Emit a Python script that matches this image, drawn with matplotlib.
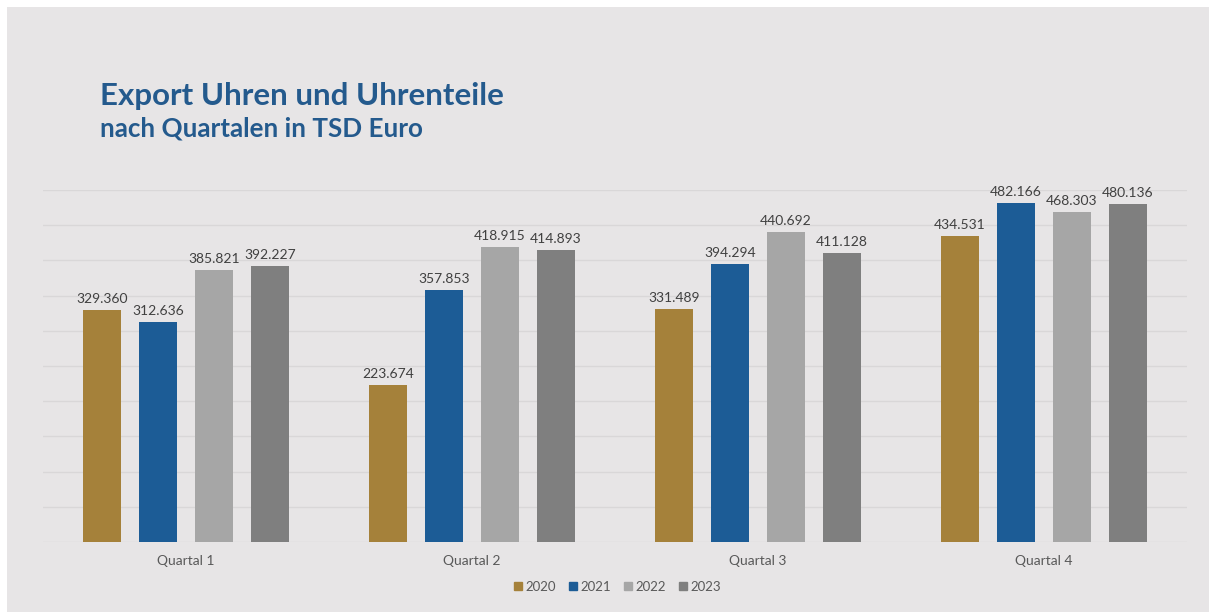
import matplotlib.pyplot as plt
import numpy as np
from matplotlib.patches import Rectangle

plt.rcParams['font.family'] = ['Lato', 'DejaVu Sans']

# Data (TSD Euro)
quarters = ["Quartal 1", "Quartal 2", "Quartal 3", "Quartal 4"]
years = ["2020", "2021", "2022", "2023"]
v2020 = [329360, 223674, 331489, 434531]
v2021 = [312636, 357853, 394294, 482166]
v2022 = [385821, 418915, 440692, 468303]
v2023 = [392227, 414893, 411128, 480136]
series = [v2020, v2021, v2022, v2023]
colors = ["#A5813A", "#1C5C96", "#A6A6A6", "#7F7F7F"]

bg = "#E7E5E6"

fig = plt.figure(figsize=(12.09, 6.12), dpi=100)
fig.patch.set_facecolor(bg)
# thin white strip on top and left edge
fig.patches.append(Rectangle((0, 1 - 7 / 612), 1, 7 / 612, transform=fig.transFigure,
                             facecolor="white", edgecolor="none"))
fig.patches.append(Rectangle((0, 0), 7 / 1209, 1, transform=fig.transFigure,
                             facecolor="white", edgecolor="none"))

ax = fig.add_axes([43 / 1209, 1 - 542 / 612, 1144 / 1209, 352 / 612])
ax.set_facecolor(bg)

x = np.arange(len(quarters))
width = 0.13
step = 0.196

def fmt(v):
    return f"{v:,}".replace(",", ".")

for i, (vals, c) in enumerate(zip(series, colors)):
    pos = x + (i - 1.5) * step
    bars = ax.bar(pos, vals, width, color=c, label=years[i], zorder=3)
    for b, v in zip(bars, vals):
        ax.text(b.get_x() + b.get_width() / 2, v + 7000, fmt(v),
                ha="center", va="bottom", fontsize=10, color="#404040",
                zorder=4, clip_on=False)

ax.set_xlim(-0.5, 3.5)
ax.set_ylim(0, 500000)
ax.set_yticks(np.arange(0, 500001, 50000))
ax.yaxis.grid(True, color="#D9D7D8", linewidth=1)
ax.set_axisbelow(True)
ax.tick_params(axis="y", left=False, labelleft=False)
ax.tick_params(axis="x", bottom=False, labelsize=10, labelcolor="#595959", pad=6)
ax.set_xticks(x)
ax.set_xticklabels(quarters)
for s in ax.spines.values():
    s.set_visible(False)

fig.text(100 / 1209, 1 - 96 / 612, "Export Uhren und Uhrenteile",
         fontsize=22.5, fontweight="bold", color="#245A8D", va="center")
fig.text(100 / 1209, 1 - 128 / 612, "nach Quartalen in TSD Euro",
         fontsize=18.7, fontweight="bold", color="#245A8D", va="center")

handles = [plt.Line2D([], [], marker="s", linestyle="none", markersize=6,
                      markerfacecolor=c, markeredgecolor=c) for c in colors]
fig.legend(handles, years, loc="center", bbox_to_anchor=(616 / 1209, 1 - 587 / 612),
           ncol=4, frameon=False, fontsize=9.5, handletextpad=0.05, handlelength=1.0,
           columnspacing=0.8, labelcolor="#595959")

fig.savefig("out.png", dpi=100, facecolor=fig.get_facecolor())
